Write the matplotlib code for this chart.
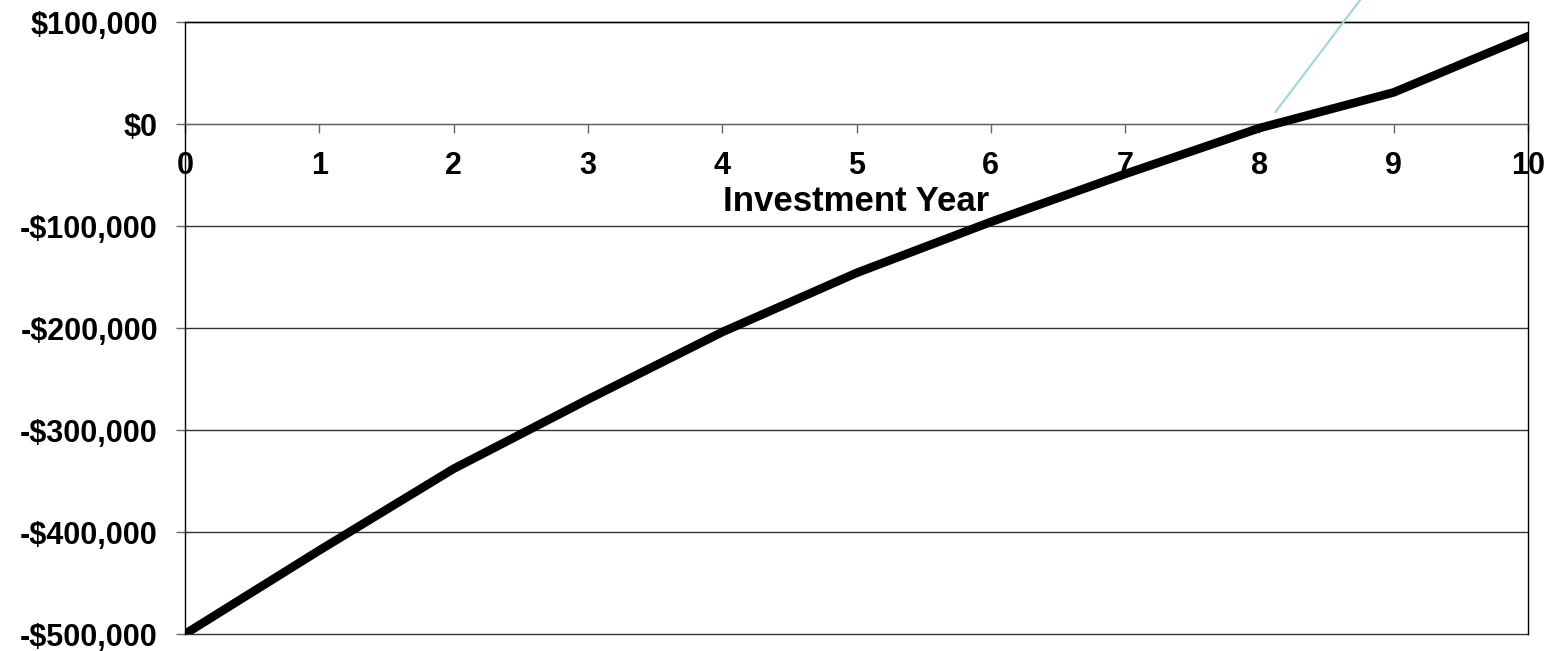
import matplotlib.pyplot as plt
from matplotlib.ticker import FuncFormatter

# cumulative cash position by investment year
years = [0, 1, 2, 3, 4, 5, 6, 7, 8, 9, 10]
cash_position = [-500000, -418000, -338000, -270000, -204000, -146000,
                 -96000, -49000, -4000, 31000, 86000]

# callout leader pointing at the break-even year
leader_x = [8.12, 8.75]
leader_y = [11800, 121600]

y_ticks = [100000, 0, -100000, -200000, -300000, -400000, -500000]

plt.rcParams['font.family'] = ['Liberation Sans', 'DejaVu Sans']
plt.rcParams['font.weight'] = 'bold'


def money(v, pos):
    if v < 0:
        return '-${:,.0f}'.format(-v)
    return '${:,.0f}'.format(v)


fig = plt.figure(figsize=(15.6, 6.51), dpi=100)
ax = fig.add_axes([0.1186, 0.0261, 0.8609, 0.9401])

ax.plot(years, cash_position, color='black', linewidth=6.2,
        solid_capstyle='round', solid_joinstyle='round', zorder=3)
ax.plot(leader_x, leader_y, color='#a6d6dc', linewidth=1.6,
        clip_on=False, zorder=4)

ax.set_xlim(0, 10)
ax.set_ylim(-500000, 100000)
ax.set_xticks(years)
ax.set_yticks(y_ticks)
ax.yaxis.set_major_formatter(FuncFormatter(money))

# horizontal gridlines
for v in y_ticks:
    ax.axhline(v, color='#333333', linewidth=1.0, zorder=1, clip_on=False)

ax.spines['bottom'].set_position(('data', 0))
ax.spines['bottom'].set_color('#666666')
for side in ['top', 'left', 'right']:
    ax.spines[side].set_color('black')
    ax.spines[side].set_linewidth(1.0)

ax.tick_params(axis='x', direction='out', length=6.5, width=1,
               color='#666666', pad=13, labelsize=22)
ax.tick_params(axis='y', direction='out', length=6.5, width=1,
               color='#666666', pad=13, labelsize=22)
for lbl in ax.get_xticklabels() + ax.get_yticklabels():
    lbl.set_fontweight('bold')

ax.set_xlabel('Investment Year', fontsize=25, fontweight='bold', labelpad=3)

fig.savefig('out.png', dpi=100)
